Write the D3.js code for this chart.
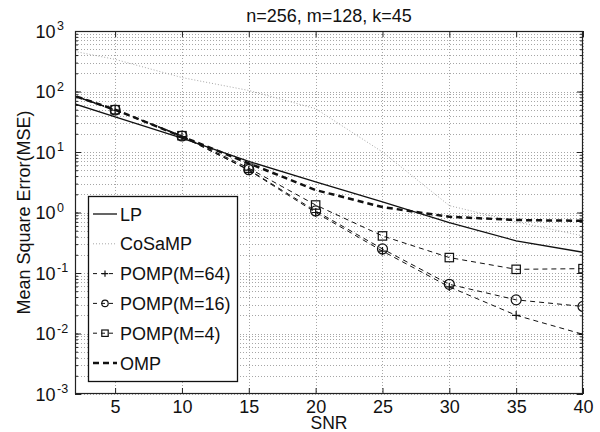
<!DOCTYPE html>
<html>
<head>
<meta charset="utf-8">
<script src="https://cdn.jsdelivr.net/npm/d3@7"></script>
<style>
  body { margin: 0; background: #fff; }
  svg { font-family: "Liberation Sans", Arial, Helvetica, sans-serif; }
</style>
</head>
<body>
<div id="viz"></div>
<script>
const snr = [0, 5, 10, 15, 20, 25, 30, 35, 40];
const lp = [86, 38, 17, 7.0, 3.2, 1.5, 0.68, 0.34, 0.22];
const cosamp = [560, 340, 170, 104, 52, 10, 1.3, 0.70, 0.41];
const pomp64 = [118, 49, 18, 5.0, 1.0, 0.23, 0.059, 0.020, 0.0097];
const pomp16 = [119, 49.5, 18.4, 5.1, 1.06, 0.25, 0.065, 0.036, 0.028];
const pomp4 = [120, 50, 18.6, 5.4, 1.33, 0.41, 0.18, 0.115, 0.118];
const omp = [119, 50, 18, 6.5, 2.35, 1.23, 0.85, 0.75, 0.73];

const xTicks = [5, 10, 15, 20, 25, 30, 35, 40];
const yDecades = [-3, -2, -1, 0, 1, 2, 3];
const titleText = 'n=256, m=128, k=45';

const W = 600, H = 432;
const margin = {top: 31, left: 75, bottom: 38, right: 17};

const svg = d3.select('#viz')
  .append('svg')
  .attr('width', W)
  .attr('height', H);

const x = d3.scaleLinear()
  .domain([2, 40])
  .range([margin.left, W - margin.right]);

const y = d3.scaleLog()
  .domain([1e-3, 1e3])
  .range([H - margin.bottom, margin.top]);

const [x0, x1] = x.range();
const [y0, y1] = y.range(); // y0 bottom, y1 top

// minor + major log ticks
const yMinor = [];
yDecades.forEach(d => {
  for (let k = 1; k <= 9; k++) {
    const v = k * Math.pow(10, d);
    if (v <= 1e3 + 1e-9) yMinor.push(v);
  }
});
const yMajor = yDecades.map(d => Math.pow(10, d));

svg.append('defs').append('clipPath')
  .attr('id', 'plotclip')
  .append('rect')
  .attr('x', x0).attr('y', y1)
  .attr('width', x1 - x0).attr('height', y0 - y1);

// grid
const grid = svg.append('g')
  .attr('stroke', '#a6a6a6')
  .attr('stroke-width', 1)
  .attr('stroke-dasharray', '1,2');

grid.selectAll('.hg')
  .data(yMinor)
  .enter()
  .append('line')
  .attr('x1', x0).attr('x2', x1)
  .attr('y1', d => Math.round(y(d)) + 0.5)
  .attr('y2', d => Math.round(y(d)) + 0.5);

grid.selectAll('.vg')
  .data(xTicks)
  .enter()
  .append('line')
  .attr('y1', y1).attr('y2', y0)
  .attr('x1', d => Math.round(x(d)) + 0.5)
  .attr('x2', d => Math.round(x(d)) + 0.5);

// axes: inward ticks on all four sides
function styleAxis(g) {
  g.select('.domain').remove();
  g.selectAll('.tick line').attr('stroke', '#222');
}

svg.append('g')
  .attr('transform', `translate(0,${y0})`)
  .call(d3.axisBottom(x).tickValues(xTicks).tickSize(-6).tickPadding(6))
  .call(styleAxis)
  .call(g => g.selectAll('.tick text')
    .attr('fill', '#111')
    .style('font-size', '18px')
    .style('font-family', '"Liberation Sans", Arial, sans-serif'));

svg.append('g')
  .attr('transform', `translate(0,${y1})`)
  .call(d3.axisTop(x).tickValues(xTicks).tickSize(-6).tickFormat(''))
  .call(styleAxis);

svg.append('g')
  .attr('transform', `translate(${x0},0)`)
  .call(d3.axisLeft(y).tickValues(yMinor).tickSize(-3).tickFormat(''))
  .call(styleAxis);
svg.append('g')
  .attr('transform', `translate(${x0},0)`)
  .call(d3.axisLeft(y).tickValues(yMajor).tickSize(-6).tickFormat(''))
  .call(styleAxis);
svg.append('g')
  .attr('transform', `translate(${x1},0)`)
  .call(d3.axisRight(y).tickValues(yMinor).tickSize(-3).tickFormat(''))
  .call(styleAxis);
svg.append('g')
  .attr('transform', `translate(${x1},0)`)
  .call(d3.axisRight(y).tickValues(yMajor).tickSize(-6).tickFormat(''))
  .call(styleAxis);

// y tick labels 10^n
const yl = svg.append('g').attr('fill', '#111');
yDecades.forEach(d => {
  const ty = y(Math.pow(10, d));
  yl.append('text')
    .attr('x', 55.5).attr('y', ty + 6.5)
    .attr('text-anchor', 'end')
    .style('font-size', '18px')
    .text('10');
  yl.append('text')
    .attr('x', 57).attr('y', ty - 1)
    .attr('text-anchor', 'start')
    .style('font-size', '12.5px')
    .text(String(d));
});

// series
const series = [
  {name: 'LP', values: lp, stroke: '#111', width: 1.3, dash: null, marker: null},
  {name: 'CoSaMP', values: cosamp, stroke: '#a8a8a8', width: 1, dash: '1,2', marker: null},
  {name: 'POMP(M=64)', values: pomp64, stroke: '#111', width: 1, dash: '5,4', marker: 'plus'},
  {name: 'POMP(M=16)', values: pomp16, stroke: '#111', width: 1, dash: '5,4', marker: 'circle'},
  {name: 'POMP(M=4)', values: pomp4, stroke: '#111', width: 1, dash: '5,4', marker: 'square'},
  {name: 'OMP', values: omp, stroke: '#111', width: 2.5, dash: '6,4', marker: null}
];

const line = d3.line()
  .x(d => x(d[0]))
  .y(d => y(d[1]));

const plot = svg.append('g').attr('clip-path', 'url(#plotclip)');

function drawMarker(g, type, cx, cy, s) {
  if (type === 'plus') {
    g.append('path')
      .attr('d', `M${cx - s},${cy}H${cx + s}M${cx},${cy - s}V${cy + s}`)
      .attr('stroke', '#111').attr('stroke-width', 1.2).attr('fill', 'none');
  } else if (type === 'circle') {
    g.append('circle')
      .attr('cx', cx).attr('cy', cy).attr('r', s)
      .attr('stroke', '#111').attr('stroke-width', 1.2).attr('fill', 'none');
  } else if (type === 'square') {
    g.append('rect')
      .attr('x', cx - s).attr('y', cy - s)
      .attr('width', 2 * s).attr('height', 2 * s)
      .attr('stroke', '#111').attr('stroke-width', 1.2).attr('fill', 'none');
  }
}

series.forEach(s => {
  const pts = snr.map((v, i) => [v, s.values[i]]);
  plot.append('path')
    .attr('d', line(pts))
    .attr('fill', 'none')
    .attr('stroke', s.stroke)
    .attr('stroke-width', s.width)
    .attr('stroke-dasharray', s.dash);
  if (s.marker) {
    const size = s.marker === 'circle' ? 5 : 4.2;
    pts.filter(p => p[0] >= 2).forEach(p => drawMarker(plot, s.marker, x(p[0]), y(p[1]), size));
  }
});

// frame
svg.append('rect')
  .attr('x', x0 + 0.5).attr('y', y1 + 0.5)
  .attr('width', x1 - x0 - 1).attr('height', y0 - y1 - 1)
  .attr('fill', 'none')
  .attr('stroke', '#222')
  .attr('stroke-width', 1.2);

// legend
const legend = svg.append('g');
legend.append('rect')
  .attr('x', 88.5).attr('y', 196.5)
  .attr('width', 149).attr('height', 185)
  .attr('fill', '#fff')
  .attr('stroke', '#111')
  .attr('stroke-width', 1.3);

series.forEach((s, i) => {
  const ly = 214 + i * 29.8;
  legend.append('line')
    .attr('x1', 93).attr('x2', 117)
    .attr('y1', ly).attr('y2', ly)
    .attr('stroke', s.stroke)
    .attr('stroke-width', s.width)
    .attr('stroke-dasharray', s.marker ? '4,4' : s.dash);
  if (s.marker) drawMarker(legend, s.marker, 105, ly, 3.2);
  legend.append('text')
    .attr('x', 120).attr('y', ly + 6.5)
    .attr('fill', '#111')
    .style('font-size', '18px')
    .text(s.name);
});

// title and axis labels
svg.append('text')
  .attr('x', (x0 + x1) / 2).attr('y', 22)
  .attr('text-anchor', 'middle')
  .attr('fill', '#111')
  .style('font-size', '18px')
  .text(titleText);

svg.append('text')
  .attr('x', (x0 + x1) / 2).attr('y', 429)
  .attr('text-anchor', 'middle')
  .attr('fill', '#111')
  .style('font-size', '17.5px')
  .text('SNR');

svg.append('text')
  .attr('transform', `translate(30,${(y0 + y1) / 2}) rotate(-90)`)
  .attr('text-anchor', 'middle')
  .attr('fill', '#111')
  .style('font-size', '18px')
  .text('Mean Square Error(MSE)');
</script>
</body>
</html>
